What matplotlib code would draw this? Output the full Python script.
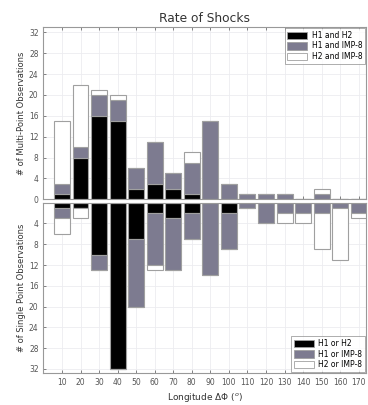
import numpy as np
import matplotlib.pyplot as plt
from matplotlib.patches import Patch

lon = np.arange(10, 180, 10)

# multi-point observations (stacked counts)
h1_and_h2 = [1, 8, 16, 15, 2, 3, 2, 1, 0, 0, 0, 0, 0, 0, 0, 0, 0]
h1_and_imp8 = [2, 2, 4, 4, 4, 8, 3, 6, 15, 3, 1, 1, 1, 0, 1, 0, 0]
h2_and_imp8 = [12, 12, 1, 1, 0, 0, 0, 2, 0, 0, 0, 0, 0, 0, 1, 0, 0]

# single point observations (stacked counts, drawn downward)
h1_or_h2 = [1, 1, 10, 32, 7, 2, 3, 2, 0, 2, 0, 0, 0, 0, 0, 0, 0]
h1_or_imp8 = [2, 0, 3, 0, 13, 10, 10, 5, 14, 7, 1, 4, 2, 2, 2, 1, 2]
h2_or_imp8 = [3, 2, 0, 0, 0, 1, 0, 0, 0, 0, 0, 0, 2, 2, 7, 10, 1]

yticks = [0, 4, 8, 12, 16, 20, 24, 28, 32]

cols = ['black', '#7d7b90', 'white']
edge = '#a0a0a0'
w = 8.6

fig = plt.figure(figsize=(3.68, 4.05), dpi=100)
ax1 = fig.add_axes([0.118, 0.508, 0.877, 0.425])
ax2 = fig.add_axes([0.118, 0.079, 0.877, 0.4205])

def stack(ax, series):
    bottom = np.zeros(len(lon))
    for vals, c in zip(series, cols):
        vals = np.array(vals, dtype=float)
        ax.bar(lon, vals, w, bottom=bottom, color=c, edgecolor=edge, linewidth=0.8)
        bottom += vals

stack(ax1, [h1_and_h2, h1_and_imp8, h2_and_imp8])
stack(ax2, [h1_or_h2, h1_or_imp8, h2_or_imp8])

for ax in (ax1, ax2):
    ax.set_xlim(0, 174)
    ax.set_xticks(lon)
    ax.set_yticks(yticks)
    ax.grid(True, color='#ececf0', linewidth=0.6)
    ax.set_axisbelow(True)
    ax.tick_params(direction='in', length=2.5, labelsize=5.5, colors='#555555',
                   top=True, width=0.5)
    for s in ax.spines.values():
        s.set_color('#999999')
        s.set_linewidth(0.8)

ax1.set_ylim(0, 33)
ax1.tick_params(labelbottom=False)
ax1.set_title('Rate of Shocks', fontsize=8.8, color='#333333', pad=4)
ax1.set_ylabel('# of Multi-Point Observations', fontsize=6, color='#333333', labelpad=2)

ax2.set_ylim(32.8, 0)
ax2.set_yticks(yticks[1:])
ax2.set_ylabel('# of Single Point Observations', fontsize=6, color='#333333', labelpad=2)
ax2.set_xlabel(r'Longitude $\Delta\Phi$ ($^o$)', fontsize=6.5, color='#333333', labelpad=3)

def legend(ax, labels, loc):
    handles = [Patch(facecolor=c, edgecolor=edge, linewidth=0.6) for c in cols]
    leg = ax.legend(handles, labels, loc=loc, fontsize=5.5, frameon=True, fancybox=False,
                    borderaxespad=0.15, handlelength=2.6, handleheight=1.1,
                    labelspacing=0.2, borderpad=0.35, handletextpad=0.6)
    leg.get_frame().set_edgecolor('#888888')
    leg.get_frame().set_linewidth(0.6)

legend(ax1, ['H1 and H2', 'H1 and IMP-8', 'H2 and IMP-8'], 'upper right')
legend(ax2, ['H1 or H2', 'H1 or IMP-8', 'H2 or IMP-8'], 'lower right')

fig.savefig('out.png', dpi=100)
